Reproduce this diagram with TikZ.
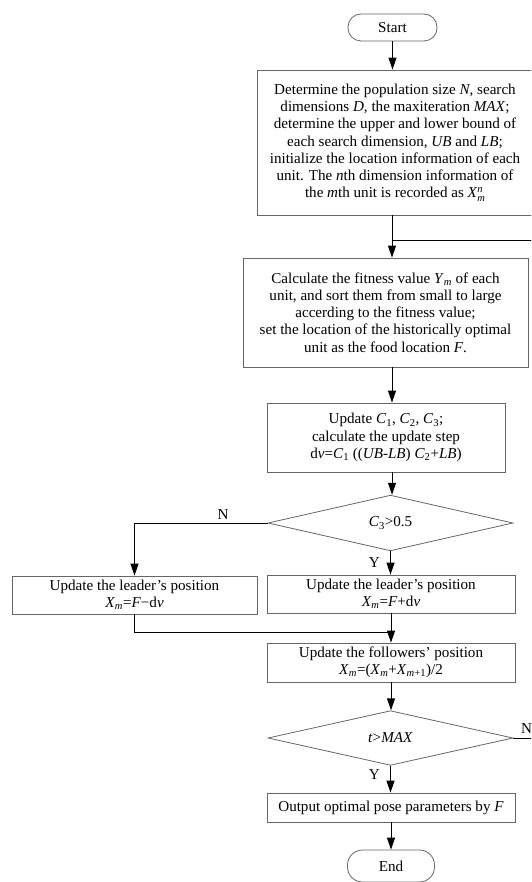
\documentclass[tikz,border=0pt]{standalone}
\usepackage{fontspec}
\setmainfont{Liberation Serif}
\usetikzlibrary{arrows.meta,shapes.geometric}
\newcommand{\sbs}[1]{\textsubscript{\textit{#1}}}
\newcommand{\scr}{\fontsize{10.5}{10.5}\selectfont}
\newcommand{\Xmn}{\textit{X}\rlap{\raisebox{0.75ex}{\scr\textit{n}}}\raisebox{-0.5ex}{\scr\textit{m}}}
\begin{document}
\begin{tikzpicture}[x=1pt,y=-1pt,
  every node/.style={font=\fontsize{15.1}{17.2}\selectfont},
  box/.style={draw=black!60, line width=0.8pt, align=center, inner sep=0pt},
  term/.style={box, rounded corners=13pt},
  dec/.style={diamond, draw=black!60, line width=0.8pt, inner sep=0pt},
  conn/.style={draw=black, line width=1pt},
  arr/.style={conn, -{Triangle[length=12pt,width=8pt]}},
  lbl/.style={inner sep=0pt}
]
\useasboundingbox (0,0) rectangle (531,882);
\clip (0,0) rectangle (531,882);
\fill[white] (0,0) rectangle (531,882);

\node[term, minimum width=89, minimum height=27] (start) at (392.5,27.5) {Start};
\node[box, minimum width=276, minimum height=145] (b1) at (395,142.5)
 {Determine the population size \textit{N}, search\\
  dimensions \textit{D}, the maxiteration \textit{MAX};\\
  determine the upper and lower bound of\\
  each search dimension, \textit{UB} and \textit{LB};\\
  initialize the location information of each\\
  unit. The \textit{n}th dimension information of\\
  the \textit{m}th unit is recorded as \Xmn};
\node[box, minimum width=285, minimum height=109] (b2) at (385.5,312.5)
 {Calculate the fitness value \textit{Y}\sbs{m} of each\\
  unit, and sort them from small to large\\
  accerding to the fitness value;\\
  set the location of the historically optimal\\
  unit as the food location \textit{F}.};
\node[box, minimum width=238, minimum height=69] (b3) at (386,437.5)
 {Update \textit{C}\textsubscript{1}, \textit{C}\textsubscript{2}, \textit{C}\textsubscript{3};\\
  calculate the update step\\
  d\textit{v}=\textit{C}\textsubscript{1} ((\textit{UB}-\textit{LB}) \textit{C}\textsubscript{2}+\textit{LB})};
\node[dec, minimum width=245, minimum height=50] (d1) at (390.5,523) {\textit{C}\textsubscript{3}>0.5};
\node[box, minimum width=248, minimum height=38] (rb) at (391,594)
 {Update the leader’s position\\ \textit{X}\sbs{m}=\textit{F}+d\textit{v}};
\node[box, minimum width=245, minimum height=38] (lb) at (134.5,595)
 {Update the leader’s position\\ \textit{X}\sbs{m}=\textit{F}−d\textit{v}};
\node[box, minimum width=248, minimum height=39] (fb) at (391,662.5)
 {Update the followers’ position\\ \textit{X}\sbs{m}=(\textit{X}\sbs{m}+\textit{X}\textsubscript{\textit{m}+1})/2};
\node[dec, minimum width=245, minimum height=50] (d2) at (390.5,738) {\textit{t}>\textit{MAX}};
\node[box, minimum width=248, minimum height=29] (ob) at (391,807.5)
 {Output optimal pose parameters by \textit{F}};
\node[term, minimum width=87, minimum height=32, rounded corners=15pt] (end) at (391,866) {End};

\coordinate (cx) at (392,0);
\coordinate (lp) at (392,241);
\coordinate (rt) at (540,241);
\coordinate (mg) at (392,632);

\draw[arr] (start.south) -- (start.south |- b1.north);
\draw[arr] (cx |- b1.south) -- (cx |- b2.north);
\draw[conn] (d2.east) -- (d2.east -| rt) -- (rt) -- (lp);
\node[lbl, anchor=base west] at (521,733) {N};
\draw[arr] (cx |- b2.south) -- (cx |- b3.north);
\draw[arr] (cx |- b3.south) -- (cx |- d1.north);
\draw[arr] (d1.south) -- (d1.south |- rb.north);
\node[lbl, anchor=east] at (380,563) {Y};
\draw[arr] (d1.west) -| (lb.north);
\node[lbl, anchor=south] at (223,520) {N};
\draw[conn] (lb.south) |- (mg);
\draw[arr] (rb.south) -- (fb.north);
\draw[arr] (fb.south) -- (fb.south |- d2.north);
\draw[arr] (d2.south) -- (d2.south |- ob.north);
\node[lbl, anchor=east] at (380,775) {Y};
\draw[arr] (ob.south) -- (ob.south |- end.north);
\end{tikzpicture}
\end{document}
